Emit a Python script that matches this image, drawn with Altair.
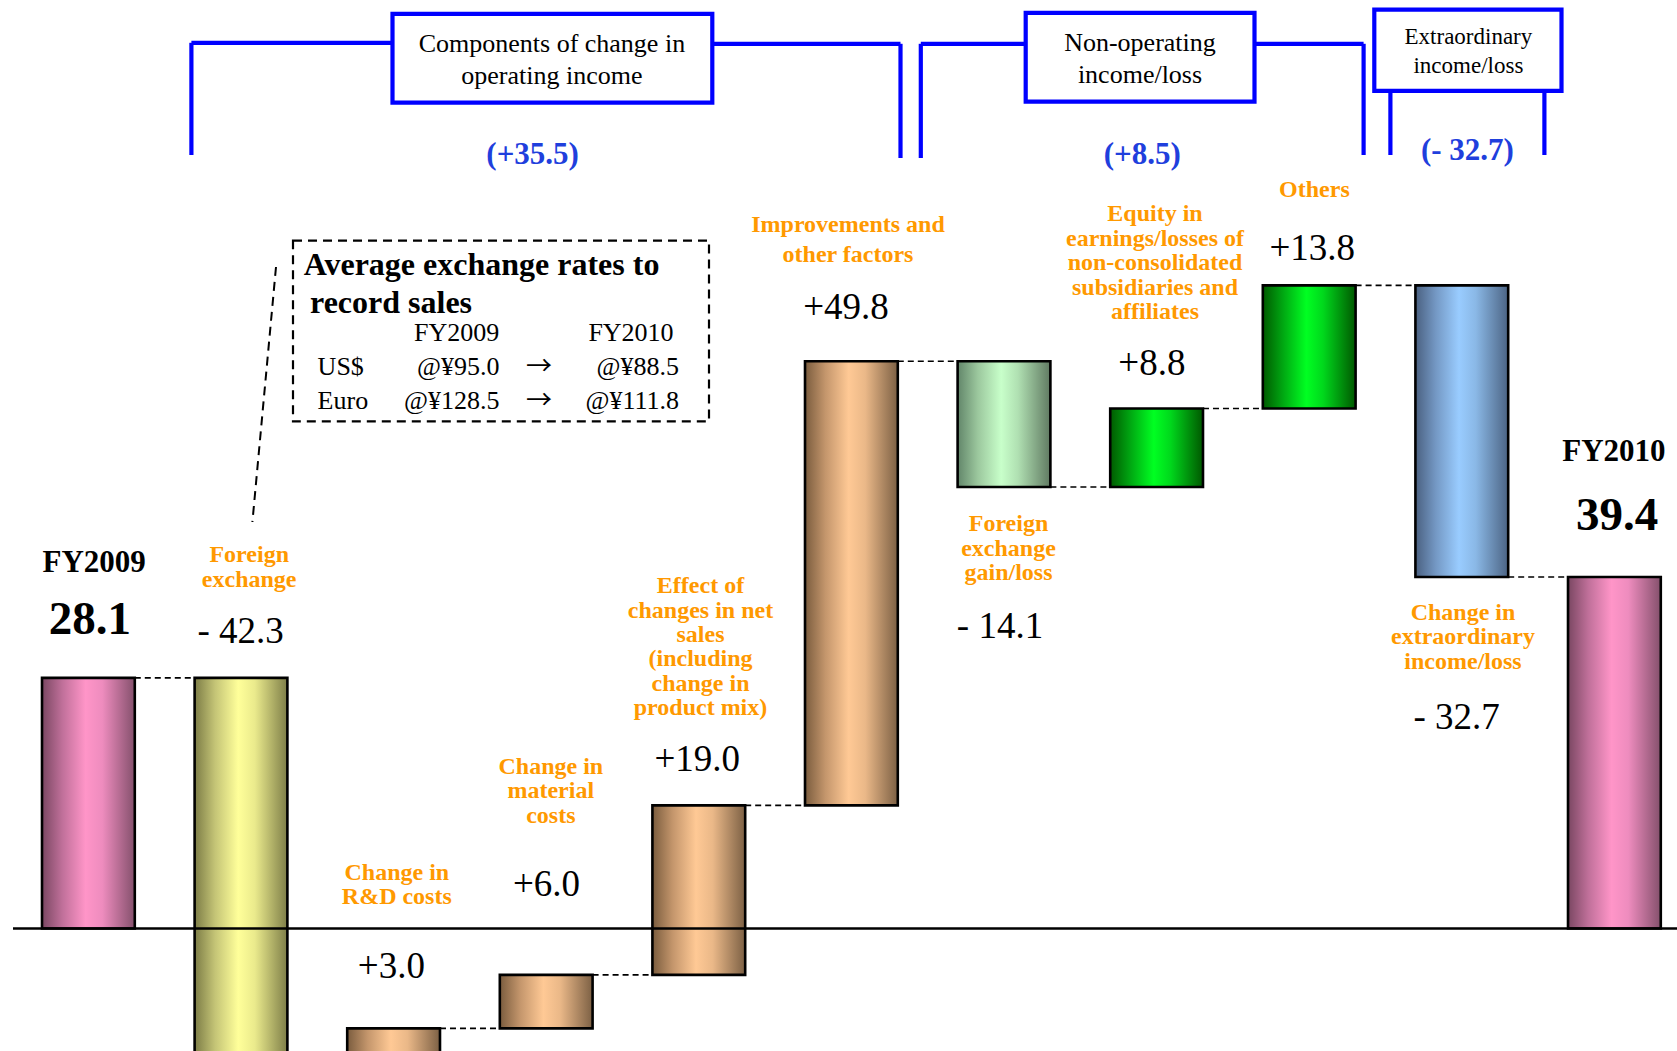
import altair as alt
import pandas as pd

# ---------------- data ----------------
categories = ["FY2009", "Foreign exchange", "Change in R&D costs", "Change in material costs",
              "Effect of changes in net sales", "Improvements and other factors",
              "Foreign exchange gain/loss", "Equity in earnings/losses", "Others",
              "Change in extraordinary income/loss", "FY2010"]
values = [28.1, -42.3, 3.0, 6.0, 19.0, 49.8, -14.1, 8.8, 13.8, -32.7, 39.4]
kinds = ["total", "delta", "delta", "delta", "delta", "delta", "delta", "delta", "delta", "delta", "total"]
groups = ["pink", "yellow", "orange", "orange", "orange", "orange", "lightgreen", "green", "green", "blue", "pink"]
value_texts = ["28.1", "- 42.3", "+3.0", "+6.0", "+19.0", "+49.8", "- 14.1", "+8.8", "+13.8", "- 32.7", "39.4"]
category_lines = [
    ["FY2009"],
    ["Foreign", "exchange"],
    ["Change in", "R&D costs"],
    ["Change in", "material", "costs"],
    ["Effect of", "changes in net", "sales", "(including", "change in", "product mix)"],
    ["Improvements and", "other factors"],
    ["Foreign", "exchange", "gain/loss"],
    ["Equity in", "earnings/losses of", "non-consolidated", "subsidiaries and", "affiliates"],
    ["Others"],
    ["Change in", "extraordinary", "income/loss"],
    ["FY2010"],
]
section_titles = [["Components of change in", "operating income"],
                  ["Non-operating", "income/loss"],
                  ["Extraordinary", "income/loss"]]
section_totals = ["(+35.5)", "(+8.5)", "(- 32.7)"]
rate_title = ["Average exchange rates to", "record sales"]
rate_years = ["FY2009", "FY2010"]
rate_currencies = ["US$", "Euro"]
rate_fy2009 = ["@\u00a595.0", "@\u00a5128.5"]
rate_fy2010 = ["@\u00a588.5", "@\u00a5111.8"]

# ---------------- layout (pixel geometry of the page) ----------------
W, H = 1677, 1051
PX0, PXSTEP = 88.4, 152.6      # centre of first bar, bar spacing
PY0, PYUNIT = 928.5, 8.92      # zero line, pixels per unit
HW = 0.304                     # bar half width (in bar steps)


def X(px):
    return (px - PX0) / PXSTEP


def Y(py):
    return (PY0 - py) / PYUNIT


xs = alt.Scale(domain=[X(0), X(W)], nice=False, zero=False)
ys = alt.Scale(domain=[Y(H), Y(0)], nice=False, zero=False)

gradients = {
    "pink": ["#7a4762", "#c0709a", "#ff95c8", "#ee8cbe", "#84506c"],
    "yellow": ["#7c7c46", "#c4c476", "#ffff9a", "#eaea8c", "#7e7e48"],
    "orange": ["#7a5c3e", "#c4966c", "#ffc995", "#eab888", "#7c6044"],
    "lightgreen": ["#62866a", "#9cc89e", "#c8ffca", "#b0e0b2", "#607a62"],
    "green": ["#005a00", "#00a812", "#00ff22", "#00d81c", "#005800"],
    "blue": ["#4a6080", "#7498c4", "#99ccff", "#8ab8e6", "#4c6484"],
}
stop_offsets = [0.0, 0.22, 0.47, 0.65, 1.0]

# ---------------- waterfall table ----------------
rows = []
level = 0.0
for i, (c, v, k, g) in enumerate(zip(categories, values, kinds, groups)):
    if k == "total":
        lo, hi = 0.0, v
        level = v
    else:
        lo, hi = level, level + v
        level = level + v
    rows.append(dict(idx=i, cat=c, x1=i - HW, x2=i + HW, lo=lo, hi=hi, end=level, group=g))
bars = pd.DataFrame(rows)

conn = pd.DataFrame([dict(x1=r["idx"] + HW, x2=r["idx"] + 1 - HW, y=r["end"])
                     for r in rows[:-1]])

layers = []

# bars
for g, cols in gradients.items():
    sub = bars[bars["group"] == g]
    grad = alt.LinearGradient(
        gradient="linear", x1=0, x2=1, y1=0, y2=0,
        stops=[alt.GradientStop(offset=o, color=c) for o, c in zip(stop_offsets, cols)])
    layers.append(
        alt.Chart(sub).mark_rect(fill=grad, stroke="black", strokeWidth=2.6, clip=True).encode(
            x=alt.X("x1:Q", scale=xs, axis=None), x2="x2:Q",
            y=alt.Y("lo:Q", scale=ys, axis=None), y2="hi:Q"))

# connectors
layers.append(alt.Chart(conn).mark_rule(color="black", strokeWidth=1.6, strokeDash=[6, 4]).encode(
    x=alt.X("x1:Q", scale=xs, axis=None), x2="x2:Q", y=alt.Y("y:Q", scale=ys, axis=None)))

# zero line
zero_df = pd.DataFrame([dict(x1=X(13), x2=X(W), y=0.0)])
layers.append(alt.Chart(zero_df).mark_rule(color="black", strokeWidth=2.4).encode(
    x=alt.X("x1:Q", scale=xs, axis=None), x2="x2:Q", y=alt.Y("y:Q", scale=ys, axis=None)))

# section brackets (segments in page pixels)
seg_px = [
    (191.4, 42.8, 191.4, 155.0), (191.4, 42.8, 392.5, 42.8), (712.3, 43.8, 900.5, 43.8), (900.5, 43.8, 900.5, 158.0),
    (920.8, 43.8, 920.8, 158.0), (920.8, 43.8, 1025.7, 43.8), (1254.5, 43.8, 1363.6, 43.8), (1363.6, 43.8, 1363.6, 155.0),
    (1390.4, 90.0, 1390.4, 155.0), (1544.4, 90.0, 1544.4, 155.0),
]
seg = pd.DataFrame([dict(x1=X(a), y1=Y(b), x2=X(c), y2=Y(d)) for a, b, c, d in seg_px])
layers.append(alt.Chart(seg).mark_rule(color="#0000ff", strokeWidth=4.2).encode(
    x=alt.X("x1:Q", scale=xs, axis=None), x2="x2:Q",
    y=alt.Y("y1:Q", scale=ys, axis=None), y2="y2:Q"))

box_px = [(392.5, 13.9, 712.3, 102.7), (1025.7, 12.8, 1254.5, 101.6), (1374.3, 9.6, 1561.5, 90.9)]
boxes = pd.DataFrame([dict(x1=X(a), y1=Y(b), x2=X(c), y2=Y(d)) for a, b, c, d in box_px])
layers.append(alt.Chart(boxes).mark_rect(fill="white", stroke="#0000ff", strokeWidth=4.2).encode(
    x=alt.X("x1:Q", scale=xs, axis=None), x2="x2:Q",
    y=alt.Y("y1:Q", scale=ys, axis=None), y2="y2:Q"))

# exchange-rate box and leader
rbox = pd.DataFrame([dict(x1=X(293), y1=Y(240.6), x2=X(709), y2=Y(421.4))])
layers.append(alt.Chart(rbox).mark_rect(fill="white", fillOpacity=0, stroke="black", strokeWidth=2.2,
                                        strokeDash=[9, 6]).encode(
    x=alt.X("x1:Q", scale=xs, axis=None), x2="x2:Q",
    y=alt.Y("y1:Q", scale=ys, axis=None), y2="y2:Q"))
lead = pd.DataFrame([dict(x1=X(276), y1=Y(267), x2=X(252.4), y2=Y(522))])
layers.append(alt.Chart(lead).mark_rule(color="black", strokeWidth=2, strokeDash=[9, 6]).encode(
    x=alt.X("x1:Q", scale=xs, axis=None), x2="x2:Q",
    y=alt.Y("y1:Q", scale=ys, axis=None), y2="y2:Q"))


def text_layer(recs, size, color="black", weight="normal", align="center", font="Liberation Serif"):
    df = pd.DataFrame(recs)
    return alt.Chart(df).mark_text(fontSize=size, color=color, fontWeight=weight, align=align,
                                   baseline="middle", font=font).encode(
        x=alt.X("x:Q", scale=xs, axis=None), y=alt.Y("y:Q", scale=ys, axis=None), text="t:N")


# orange category labels: (centre px, first line px, line height px)
cat_pos = {1: (249.2, 555.1, 24.6), 2: (396.8, 872.7, 24.6), 3: (550.8, 766.8, 24.6),
           4: (700.5, 586.1, 24.4), 5: (848.0, 224.6, 29.9), 6: (1008.5, 524.0, 24.6),
           7: (1155.0, 213.9, 24.6), 8: (1314.4, 190.4, 24.6), 9: (1463.0, 612.8, 24.6)}
orange_recs = []
for i, (cx, fy, lh) in cat_pos.items():
    for k, line in enumerate(category_lines[i]):
        orange_recs.append(dict(x=X(cx), y=Y(fy + k * lh), t=line))
layers.append(text_layer(orange_recs, 24, color="#ff9900", weight="bold"))

# value labels
val_pos = {1: (240.6, 632.0), 2: (391.4, 966.8), 3: (546.5, 884.5), 4: (697.3, 760.4),
           5: (846.0, 308.0), 6: (1000.0, 626.7), 7: (1151.9, 363.6), 8: (1312.3, 249.2),
           9: (1456.7, 717.6)}
layers.append(text_layer([dict(x=X(a), y=Y(b), t=value_texts[i]) for i, (a, b) in val_pos.items()], 37))

# totals
layers.append(text_layer([dict(x=X(94.1), y=Y(562.6), t=category_lines[0][0]),
                          dict(x=X(1613.9), y=Y(452.4), t=category_lines[10][0])], 31, weight="bold"))
layers.append(text_layer([dict(x=X(89.8), y=Y(620.0), t=value_texts[0]),
                          dict(x=X(1617.1), y=Y(516.0), t=value_texts[10])], 47, weight="bold"))

# section titles
sec_recs = [dict(x=X(551.9), y=Y(43.8), t=section_titles[0][0]), dict(x=X(551.9), y=Y(75.9), t=section_titles[0][1]),
            dict(x=X(1140.0), y=Y(42.8), t=section_titles[1][0]), dict(x=X(1140.0), y=Y(74.9), t=section_titles[1][1])]
layers.append(text_layer(sec_recs, 26))
layers.append(text_layer([dict(x=X(1468.4), y=Y(37.4), t=section_titles[2][0]),
                          dict(x=X(1468.4), y=Y(66.3), t=section_titles[2][1])], 23))
layers.append(text_layer([dict(x=X(532.6), y=Y(155.0), t=section_totals[0]),
                          dict(x=X(1142.2), y=Y(155.0), t=section_totals[1]),
                          dict(x=X(1467.4), y=Y(150.5), t=section_totals[2])], 31, color="#1f3fdd", weight="bold"))

# exchange-rate box texts
layers.append(text_layer([dict(x=X(303.7), y=Y(265.2), t=rate_title[0]),
                          dict(x=X(310.0), y=Y(302.7), t=rate_title[1])], 32, weight="bold", align="left"))
layers.append(text_layer([dict(x=X(456.7), y=Y(332.6), t=rate_years[0]),
                          dict(x=X(631.0), y=Y(332.6), t=rate_years[1])], 26))
layers.append(text_layer([dict(x=X(539.0), y=Y(366.8), t="\u2192"),
                          dict(x=X(539.0), y=Y(401.0), t="\u2192")], 26, font="Noto Sans CJK JP"))
layers.append(text_layer([dict(x=X(317.6), y=Y(366.8), t=rate_currencies[0]),
                          dict(x=X(317.6), y=Y(401.0), t=rate_currencies[1])], 26, align="left"))
layers.append(text_layer([dict(x=X(499.5), y=Y(366.8), t=rate_fy2009[0]),
                          dict(x=X(499.5), y=Y(401.0), t=rate_fy2009[1]),
                          dict(x=X(679.0), y=Y(366.8), t=rate_fy2010[0]),
                          dict(x=X(679.0), y=Y(401.0), t=rate_fy2010[1])], 26, align="right"))

chart = alt.layer(*layers).properties(
    width=W, height=H, padding=0, autosize=alt.AutoSizeParams(type="none"), background="white"
).configure_view(stroke=None)

chart.save("out.html", embed_options={"renderer": "svg", "actions": False})
